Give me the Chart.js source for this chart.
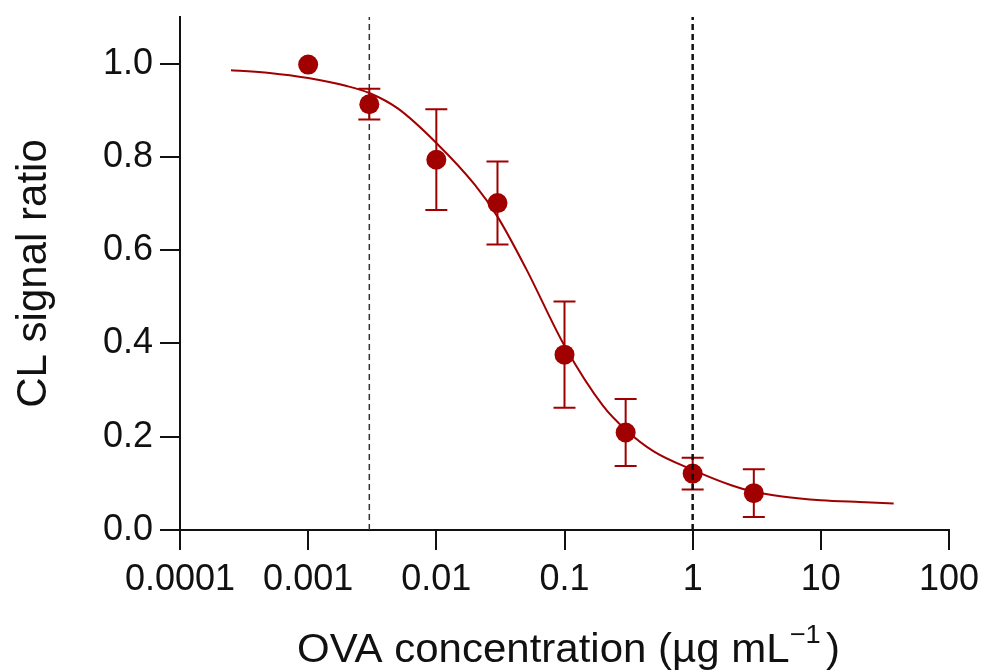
<!DOCTYPE html>
<html>
<head>
<meta charset="utf-8">
<title>CL signal ratio vs OVA concentration</title>
<script src="https://cdn.jsdelivr.net/npm/chart.js@4.4.1/dist/chart.umd.min.js"></script>
<style>
  html, body { margin: 0; padding: 0; background: #fff; }
  #wrap { width: 982px; height: 670px; }
</style>
</head>
<body>
<div id="wrap"><canvas id="chart" width="982" height="670"></canvas></div>
<script>
// measured points (mean ± SD)
const concentrations = [0.001, 0.003, 0.01, 0.03, 0.1, 0.3, 1, 3];
const signalRatio    = [0.998, 0.913, 0.794, 0.701, 0.376, 0.209, 0.121, 0.079];
const signalSD       = [0, 0.033, 0.108, 0.089, 0.114, 0.072, 0.034, 0.051];

// fitted curve
const fitConc  = [0.00025, 0.0005, 0.001, 0.002, 0.003, 0.005, 0.01, 0.02, 0.03, 0.05,
                  0.1, 0.2, 0.3, 0.5, 1, 2, 3, 5, 10, 20, 37];
const fitRatio = [0.986, 0.980, 0.969, 0.952, 0.937, 0.904, 0.830, 0.740, 0.672, 0.561,
                  0.395, 0.266, 0.215, 0.168, 0.129, 0.096, 0.082, 0.072, 0.064, 0.060, 0.057];

// dashed markers (LOD / upper limit of range)
const lodConc   = 0.003;
const upperConc = 1;

const xTickValues = [0.0001, 0.001, 0.01, 0.1, 1, 10, 100];
const xTickLabels = ['0.0001', '0.001', '0.01', '0.1', '1', '10', '100'];
const yTickValues = [0, 0.2, 0.4, 0.6, 0.8, 1.0];

const Y_MAX = 1.1;
const RED = '#a00000';
const INK = '#111';
const FONT = "'Liberation Sans', Arial, Helvetica, sans-serif";

function pairs(xs, ys) {
  return xs.map(function (x, i) { return { x: x, y: ys[i] }; });
}
function vline(x) {
  return [{ x: x, y: 0 }, { x: x, y: Y_MAX }];
}

// error bars drawn right after the points dataset
const errorBars = {
  id: 'errorBars',
  afterDatasetDraw(chart, args) {
    if (args.index !== 2) return;
    const ctx = chart.ctx;
    const xs = chart.scales.x, ys = chart.scales.y;
    ctx.save();
    ctx.strokeStyle = RED;
    ctx.lineWidth = 2;
    concentrations.forEach(function (c, i) {
      const sd = signalSD[i];
      if (!sd) return;
      const px = xs.getPixelForValue(c);
      const top = ys.getPixelForValue(signalRatio[i] + sd);
      const bot = ys.getPixelForValue(signalRatio[i] - sd);
      ctx.beginPath();
      ctx.moveTo(px, top); ctx.lineTo(px, bot);
      ctx.moveTo(px - 11, top); ctx.lineTo(px + 11, top);
      ctx.moveTo(px - 11, bot); ctx.lineTo(px + 11, bot);
      ctx.stroke();
    });
    ctx.restore();
  }
};

// x title with superscript unit
const xTitle = {
  id: 'xTitle',
  afterDraw(chart) {
    const ctx = chart.ctx;
    const main = 'OVA concentration (\u00b5g mL';
    const sup = '\u22121';
    const close = ')';
    ctx.save();
    ctx.fillStyle = INK;
    ctx.textBaseline = 'alphabetic';
    ctx.textAlign = 'left';
    ctx.translate(297, 662);
    ctx.scale(1.05, 1);
    ctx.font = '40px ' + FONT;
    ctx.fillText(main, 0, 0);
    let x = ctx.measureText(main).width;
    ctx.font = '26px ' + FONT;
    ctx.fillText(sup, x, -19);
    x += ctx.measureText(sup).width + 5;
    ctx.font = '40px ' + FONT;
    ctx.fillText(close, x, 0);
    ctx.restore();
  }
};

const cfg = {
  type: 'line',
  data: {
    datasets: [
      {
        label: 'upper',
        data: vline(upperConc),
        borderColor: '#111',
        borderWidth: 2.5,
        borderDash: [6, 4],
        pointRadius: 0,
        order: 0
      },
      {
        label: 'fit',
        data: pairs(fitConc, fitRatio),
        borderColor: RED,
        borderWidth: 2,
        pointRadius: 0,
        cubicInterpolationMode: 'monotone',
        order: 2
      },
      {
        label: 'measured',
        data: pairs(concentrations, signalRatio),
        showLine: false,
        pointRadius: 10,
        pointBackgroundColor: RED,
        pointBorderWidth: 0,
        order: 1
      },
      {
        label: 'LOD',
        data: vline(lodConc),
        borderColor: '#333',
        borderWidth: 1.5,
        borderDash: [6, 4],
        pointRadius: 0,
        order: 3
      }
    ]
  },
  options: {
    responsive: false,
    animation: false,
    devicePixelRatio: 1,
    layout: { padding: { left: 0, right: 33, top: 17, bottom: 0 } },
    plugins: { legend: { display: false }, tooltip: { enabled: false } },
    scales: {
      x: {
        type: 'logarithmic',
        min: 0.0001,
        max: 100,
        border: { display: true, color: INK, width: 2 },
        grid: { drawOnChartArea: false, drawTicks: true, tickLength: 20, color: INK, lineWidth: 2 },
        ticks: {
          color: INK,
          font: { family: FONT, size: 36 },
          padding: 8,
          maxRotation: 0,
          autoSkip: false,
          callback: function (v, i) { return xTickLabels[i]; }
        },
        afterBuildTicks: function (s) {
          s.ticks = xTickValues.map(function (v) { return { value: v }; });
        },
        afterFit: function (s) {
          s.height = 140;
          s.paddingLeft = 0; s.paddingRight = 0;
        }
      },
      y: {
        type: 'linear',
        min: 0,
        max: Y_MAX,
        border: { display: true, color: INK, width: 2 },
        grid: { drawOnChartArea: false, drawTicks: true, tickLength: 20, color: INK, lineWidth: 2 },
        ticks: {
          color: INK,
          font: { family: FONT, size: 36 },
          padding: 7,
          callback: function (v) { return v.toFixed(1); }
        },
        afterBuildTicks: function (s) {
          s.ticks = yTickValues.map(function (v) { return { value: v }; });
        },
        title: {
          display: true,
          text: 'CL signal ratio',
          color: INK,
          font: { family: FONT, size: 42 },
          padding: { top: 9, bottom: 0 }
        },
        afterFit: function (s) {
          s.width = 180;
          s.paddingTop = 0; s.paddingBottom = 0;
        }
      }
    }
  },
  plugins: [errorBars, xTitle]
};

new Chart(document.getElementById('chart'), cfg);
</script>
</body>
</html>
